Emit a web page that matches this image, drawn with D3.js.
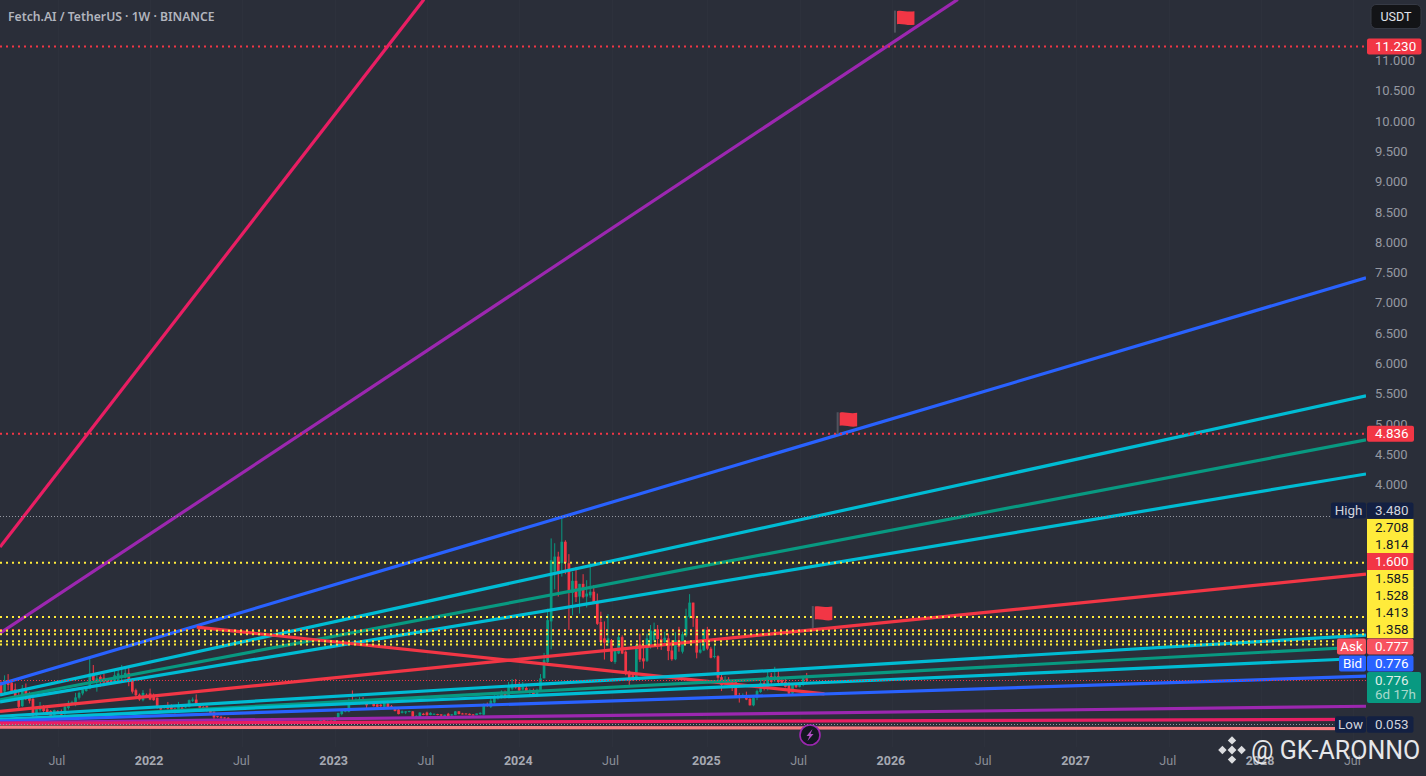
<!DOCTYPE html>
<html><head><meta charset="utf-8">
<script src="https://cdn.jsdelivr.net/npm/d3@7"></script>
<style>
html,body{margin:0;padding:0;background:#2a2e39;overflow:hidden}
svg{display:block}
text{font-family:Roboto,sans-serif}
</style></head><body><div id="c"></div>
<script>
const chartTitle = "Fetch.AI / TetherUS · 1W · BINANCE";
const firstWeek = "2021-03-15";
// weekly [open, high, low, close]
const candles = [
[.74,.77,.51,.52],[.58,.85,.55,.77],[.77,.87,.605,.69],[.73,.77,.55,.59],[.62,.715,.44,.47],
[.52,.58,.30,.33],[.34,.69,.33,.63],[.62,.715,.44,.51],[.55,.58,.385,.43],[.46,.55,.15,.19],
[.19,.33,.18,.31],[.275,.41,.25,.31],[.34,.36,.22,.26],[.29,.33,.22,.23],[.26,.275,.14,.18],
[.19,.285,.165,.275],[.26,.275,.22,.23],[.26,.285,.175,.20],[.22,.36,.19,.33],[.31,.43,.285,.395],
[.385,.43,.37,.41],[.36,.56,.34,.485],[.48,.58,.45,.56],[.55,.63,.52,.615],[.59,.67,.58,.66],
[.63,1.165,.62,.88],[.88,1.02,.74,.77],[.74,.85,.58,.80],[.825,.85,.66,.74],[.81,.88,.67,.73],
[.78,.80,.69,.70],[.77,.80,.70,.73],[.74,.935,.73,.85],[.77,.96,.74,.88],[.825,1.02,.77,.85],
[.81,.96,.80,.89],[.89,.98,.67,.74],[.77,.80,.55,.58],[.605,.63,.505,.52],[.53,.55,.43,.45],
[.44,.605,.42,.56],[.53,.55,.485,.505],[.55,.63,.44,.45],[.52,.55,.43,.44],[.48,.485,.30,.32],
[.34,.35,.275,.285],[.315,.34,.30,.33],[.36,.41,.285,.30],[.34,.37,.275,.285],[.30,.315,.22,.25],
[.265,.41,.25,.33],[.315,.37,.285,.30],[.32,.35,.31,.34],[.33,.45,.32,.44],[.43,.485,.41,.45],
[.45,.535,.35,.36],[.37,.38,.31,.315],[.33,.34,.32,.325],[.34,.35,.25,.26],[.275,.28,.225,.23],
[.25,.25,.11,.155],[.176,.18,.15,.165],[.165,.18,.13,.15],[.155,.16,.13,.14],[.15,.16,.09,.095],
[.11,.12,.055,.06],[.06,.09,.055,.08],[.08,.09,.06,.07],[.07,.09,.06,.08],[.08,.10,.07,.09],
[.09,.10,.07,.08],[.08,.10,.07,.09],[.08,.09,.06,.09],[.09,.11,.08,.09],[.09,.10,.07,.08],
[.095,.12,.08,.09],[.08,.10,.07,.09],[.09,.10,.08,.085],[.085,.105,.07,.075],[.075,.09,.06,.085],
[.085,.095,.07,.08],[.08,.10,.07,.095],[.095,.10,.07,.075],[.075,.09,.065,.07],[.07,.085,.06,.08],
[.08,.09,.06,.065],[.065,.08,.055,.075],[.075,.09,.06,.07],[.07,.085,.055,.06],[.06,.10,.055,.09],
[.06,.12,.05,.12],[.12,.13,.075,.09],[.09,.11,.08,.10],[.10,.11,.06,.07],[.05,.16,.045,.15],
[.13,.23,.12,.23],[.21,.28,.19,.27],[.25,.31,.24,.30],[.25,.47,.24,.43],[.44,.60,.36,.37],
[.395,.47,.38,.43],[.395,.49,.37,.46],[.44,.49,.38,.395],[.42,.44,.285,.355],[.395,.43,.38,.41],
[.41,.43,.335,.34],[.37,.38,.32,.33],[.365,.38,.32,.34],[.33,.44,.32,.395],[.385,.45,.30,.31],
[.34,.36,.315,.32],[.32,.33,.255,.26],[.285,.30,.205,.21],[.23,.27,.22,.255],[.235,.26,.21,.255],
[.25,.265,.24,.26],[.255,.26,.16,.165],[.165,.19,.155,.18],[.165,.24,.155,.235],[.215,.23,.19,.195],
[.235,.25,.185,.19],[.195,.24,.19,.23],[.21,.22,.20,.215],[.21,.215,.19,.195],[.205,.21,.175,.185],
[.18,.20,.17,.20],[.215,.23,.165,.175],[.19,.21,.18,.205],[.195,.26,.19,.255],[.255,.26,.205,.21],
[.22,.23,.205,.21],[.22,.225,.205,.21],[.215,.22,.19,.195],[.205,.21,.185,.19],[.195,.22,.19,.22],
[.21,.24,.20,.23],[.20,.385,.19,.365],[.37,.40,.33,.35],[.33,.46,.31,.43],[.40,.52,.38,.49],
[.47,.53,.45,.50],[.49,.60,.47,.58],[.55,.60,.47,.49],[.52,.74,.47,.66],[.63,.79,.60,.70],
[.70,.79,.63,.65],[.675,.74,.56,.60],[.615,.74,.60,.66],[.64,.71,.56,.575],[.575,.63,.52,.59],
[.59,.63,.50,.51],[.505,.63,.49,.60],[.60,.87,.575,.80],[.80,1.22,.80,1.10],[1.07,1.95,1.04,1.76],
[1.74,3.11,1.28,2.75],[2.56,3.03,2.27,2.81],[2.81,2.89,2.15,2.56],[2.70,3.48,2.48,3.055],[3.055,3.08,2.52,2.71],
[2.70,2.85,1.60,2.21],[2.21,2.56,1.84,2.41],[2.41,2.64,2.06,2.14],[2.15,2.36,1.87,2.36],[2.36,2.52,2.12,2.14],
[2.15,2.42,1.97,2.20],[2.17,2.70,2.13,2.23],[2.23,2.34,2.04,2.05],[2.06,2.20,1.68,1.70],[1.73,1.90,1.38,1.40],
[1.46,1.74,1.11,1.39],[1.385,1.86,1.33,1.46],[1.43,1.45,1.07,1.08],[1.07,1.27,1.04,1.25],[1.21,1.54,1.20,1.48],
[1.48,1.51,1.20,1.21],[1.24,1.26,.85,.88],[.91,.93,.69,.78],[.85,.90,.76,.80],[.80,1.37,.79,1.35],
[1.36,1.54,1.07,1.11],[1.13,1.43,.96,1.08],[1.09,1.54,1.07,1.46],[1.32,1.68,1.29,1.59],[1.43,1.72,1.40,1.58],
[1.61,1.68,1.28,1.45],[1.45,1.57,1.27,1.39],[1.40,1.57,1.37,1.47],[1.46,1.54,1.10,1.25],[1.26,1.43,1.09,1.115],
[1.115,1.56,1.10,1.43],[1.43,1.65,1.24,1.32],[1.24,1.57,1.21,1.53],[1.51,1.95,1.48,1.83],[1.815,2.19,1.79,2.05],
[2.05,2.05,1.65,1.79],[1.79,1.79,1.13,1.225],[1.225,1.43,1.21,1.275],[1.26,1.61,1.25,1.61],[1.60,1.65,1.265,1.29],
[1.29,1.32,1.13,1.14],[1.16,1.35,1.13,1.17],[1.165,1.18,.76,.81],[.82,.88,.59,.69],[.71,.835,.685,.77],
[.78,.82,.71,.74],[.76,.77,.59,.725],[.74,.77,.49,.505],[.52,.56,.40,.49],[.49,.55,.48,.52],
[.50,.58,.44,.45],[.465,.47,.35,.355],[.355,.49,.34,.48],[.48,.615,.44,.59],[.575,.77,.56,.72],
[.725,.78,.60,.63],[.63,.91,.60,.835],[.835,.89,.71,.74],[.77,.99,.74,.835],[.835,.93,.71,.74],
[.77,.82,.70,.725],[.74,.81,.65,.66],[.71,.74,.53,.55],[.55,.71,.52,.70],[.70,.725,.64,.66],
[.66,.74,.65,.73],[.69,.825,.67,.81],[.80,.89,.72,.776]
];
// trend lines
const trendStart = ["2021-03-13","2021-03-13","2021-03-13","2021-03-13","2021-03-13","2021-03-13","2021-03-13","2022-04-05","2021-03-13","2021-03-13","2021-03-13","2021-03-13","2021-03-13","2021-03-13","2021-03-13"];
const trendEnd   = ["2023-06-27","2026-05-15","2028-07-28","2028-07-28","2028-07-28","2028-07-28","2028-07-28","2025-08-25","2028-07-28","2028-07-28","2028-07-28","2028-07-28","2028-07-28","2028-07-28","2028-07-28"];
const trendFrom  = [2.967,1.545,.702,.527,.446,.41,.256,1.645,.174,.112,.124,.096,.066,.058,-.005];
const trendTo    = [12.008,12.008,7.413,5.463,4.736,4.174,2.52,.545,1.512,1.322,1.132,.835,.339,.124,-.03];
const trendColor = ["#e91e63","#9c27b0","#2962ff","#00bcd4","#089981","#00bcd4","#f23645","#f23645","#00bcd4","#089981","#00bcd4","#2962ff","#9c27b0","#e91e63","#f77c80"];
const yellowLevels = [2.708,1.814,1.585,1.528,1.413,1.358];
const redLevels = [11.23,4.836,1.6];
const highPrice = 3.48, lowPrice = .053, lastPrice = .776;
const priceTicks = [4,4.5,5,5.5,6,6.5,7,7.5,8,8.5,9,9.5,10,10.5,11];
const timeTicks = ["2021-07-05","2022-01-03","2022-07-04","2023-01-02","2023-07-03","2024-01-01","2024-07-01","2025-01-06","2025-07-07","2026-01-05","2026-07-06","2027-01-04","2027-07-05","2028-01-03","2028-07-03"];
const timeLabels = ["Jul","2022","Jul","2023","Jul","2024","Jul","2025","Jul","2026","Jul","2027","Jul","2028","Jul"];
const stackValues = ["3.480","2.708","1.814","1.600","1.585","1.528","1.413","1.358","0.777","0.776"];
const stackFills  = ["#132042","#ffeb3b","#ffeb3b","#f23645","#ffeb3b","#ffeb3b","#ffeb3b","#ffeb3b","#f7525f","#2962ff"];
const stackInk    = ["#d1d4dc","#131722","#131722","#fff","#131722","#131722","#131722","#131722","#fff","#fff"];
const flagDates = ["2025-09-20","2026-01-11","2025-08-02"];
const flagPrices = [4.83,11.46,1.63];

const W=1426,H=776,R=1366;
const parse=d3.utcParse("%Y-%m-%d");
const x=d3.scaleUtc().domain([parse("2021-03-13"),parse("2028-07-28")]).range([0,R]);
const y=d3.scaleLinear().domain([0,11]).range([726.8,60.5]);
const svg=d3.select("#c").append("svg").attr("width",W).attr("height",H);
svg.append("rect").attr("width",W).attr("height",H).attr("fill","#2a2e39");
svg.append("clipPath").attr("id","pl").append("rect").attr("width",R).attr("height",752);

// grid
const dates=timeTicks.map(parse);
svg.append("g").selectAll("line").data(dates).join("line")
 .attr("x1",d=>Math.round(x(d))+.5).attr("x2",d=>Math.round(x(d))+.5).attr("y1",0).attr("y2",747)
 .attr("stroke","#2d313c");

const plot=svg.append("g").attr("clip-path","url(#pl)");
// candles
const week0=parse(firstWeek);
const cg=plot.append("g").selectAll("g").data(candles).join("g");
const cx=(d,i)=>x(d3.utcDay.offset(week0,7*i));
const col=d=>d[3]>=d[0]?"#089981":"#f23645";
cg.append("line").attr("x1",cx).attr("x2",cx).attr("y1",d=>y(d[1])).attr("y2",d=>y(d[2])).attr("stroke",col).attr("stroke-width",1);
cg.append("rect").attr("x",(d,i)=>cx(d,i)-1.35).attr("width",2.7)
 .attr("y",d=>y(Math.max(d[0],d[3]))).attr("height",d=>Math.max(1,Math.abs(y(d[0])-y(d[3])))).attr("fill",col);

// trend lines
const ln=d3.line().x(d=>x(d[0])).y(d=>y(d[1]));
plot.append("g").selectAll("path").data(trendColor).join("path")
 .attr("d",(c,i)=>ln([[parse(trendStart[i]),trendFrom[i]],[parse(trendEnd[i]),trendTo[i]]]))
 .attr("fill","none").attr("stroke",d=>d).attr("stroke-width",3.2);

// thin price lines
const thin=[[highPrice,"#9598a1",1331],[lowPrice,"#9598a1",1335],[lastPrice,"#f23645",R]];
svg.append("g").selectAll("line").data(thin).join("line")
 .attr("x1",0).attr("x2",d=>d[2]).attr("y1",d=>Math.round(y(d[0]))+.5).attr("y2",d=>Math.round(y(d[0]))+.5)
 .attr("stroke",d=>d[1]).attr("stroke-dasharray","1 2");
// dotted levels
const dotted=(arr,c)=>svg.append("g").selectAll("line").data(arr).join("line")
 .attr("x1",0).attr("x2",R).attr("y1",d=>y(d)).attr("y2",d=>y(d)).attr("stroke",c).attr("stroke-width",2).attr("stroke-dasharray","2 4");
dotted(redLevels,"#f23645");
dotted(yellowLevels,"#ffeb3b");

// flags
const fl=svg.append("g").selectAll("g").data(flagDates).join("g")
 .attr("transform",(d,i)=>`translate(${x(parse(d))},${y(flagPrices[i])})`);
fl.append("rect").attr("x",-1).attr("y",-22).attr("width",2).attr("height",22).attr("fill","#50535e");
fl.append("path").attr("d","M2,-21.5 C7,-23 12,-20 19.5,-21.5 L19.5,-8 C13,-6.5 8,-9.5 2,-8.5 Z").attr("fill","#f23645");

// axes
const ax=svg.append("g").attr("transform",`translate(${R},0)`)
 .call(d3.axisRight(y).tickValues(priceTicks).tickSize(0).tickPadding(9).tickFormat(d3.format(".3f")));
ax.select(".domain").remove();
ax.selectAll("text").attr("fill","#9598a1").style("font-size","13px").style("font-family","Roboto,sans-serif");
const bx=svg.append("g").attr("transform","translate(-1.5,750)")
 .call(d3.axisBottom(x).tickValues(dates).tickSize(0).tickPadding(6).tickFormat((d,i)=>timeLabels[i]));
bx.select(".domain").remove();
bx.selectAll("text").attr("fill",(d,i)=>i%2?"#a6a9b2":"#8b8e98").style("font-size","12.5px")
 .style("font-weight",(d,i)=>i%2?"700":"400").style("font-family","Roboto,sans-serif");

// price tags
const tag=(x0,w,yc,h,fill,ink,txt,tx,r=2,anchor="start")=>{
 svg.append("rect").attr("x",x0).attr("y",yc-h/2).attr("width",w).attr("height",h).attr("rx",r).attr("fill",fill);
 svg.append("text").attr("x",tx).attr("y",yc+4.6).attr("fill",ink).attr("text-anchor",anchor).style("font-size","13.4px").text(txt);
};
stackValues.forEach((v,i)=>tag(1367,46.5,510.6+i*17,i===0||i===8||i===9?16:17.2,stackFills[i],stackInk[i],v,1375,i>0&&i<8?0:2));
tag(1331,35,510.6,16,"#132042","#d1d4dc","High",1348.5,2,"middle");
tag(1337,29,646.6,16,"#f7525f","#fff","Ask",1351.5,2,"middle");
tag(1339,27,663.6,16,"#2962ff","#fff","Bid",1352.5,2,"middle");
tag(1335,31,724.5,16.5,"#132042","#d1d4dc","Low",1350.5,2,"middle");
tag(1367,46.5,724.5,16.5,"#132042","#d1d4dc","0.053",1375);
tag(1367,54.5,y(11.23),16,"#f23645","#fff","11.230",1375);
tag(1367,47,y(4.836),16,"#f23645","#fff","4.836",1375);
// last price box
svg.append("rect").attr("x",1367).attr("y",672).attr("width",54).attr("height",31).attr("rx",2).attr("fill","#089981");
svg.append("text").attr("x",1375).attr("y",685).attr("fill","#dfeee9").style("font-size","13.4px").text("0.776");
svg.append("text").attr("x",1375).attr("y",699).attr("fill","#a8d9cd").style("font-size","13.4px").text("6d 17h");

// USDT button
svg.append("rect").attr("x",1371).attr("y",4.5).attr("width",50).attr("height",24).attr("rx",5).attr("fill","#131417").attr("stroke","#363a45");
svg.append("text").attr("x",1396).attr("y",21).attr("text-anchor","middle").attr("fill","#e0e3eb").style("font-size","12.5px").text("USDT");

// title
svg.append("text").attr("x",8).attr("y",20.5).attr("fill","#b2b5be")
 .style("font-family","'Noto Sans',sans-serif").style("font-size","12.2px").style("font-weight","600").text(chartTitle);

// lightning badge
const b=svg.append("g").attr("transform","translate(810,735)");
b.append("circle").attr("r",10).attr("fill","#131722").attr("stroke","#9c27b0").attr("stroke-width",1.6);
b.append("path").attr("d","M2.5,-6 L-3.5,1 L-.5,1 L-2.5,6 L3.5,-1 L.5,-1 Z").attr("fill","#b04fc4");

// watermark
const wm=svg.append("g").attr("transform","translate(1232,750)").attr("fill","#dcdde0");
[[0,0,4.4],[0,-9.6,4.2],[0,9.6,4.2],[-9.6,0,4.2],[9.6,0,4.2]].forEach(p=>{
 wm.append("path").attr("d",`M${p[0]},${p[1]-p[2]} L${p[0]+p[2]},${p[1]} L${p[0]},${p[1]+p[2]} L${p[0]-p[2]},${p[1]} Z`);
});
svg.append("text").attr("x",1251).attr("y",759).attr("fill","#e6e7ea").style("font-size","25px").text("@ GK-ARONNO");
</script></body></html>
